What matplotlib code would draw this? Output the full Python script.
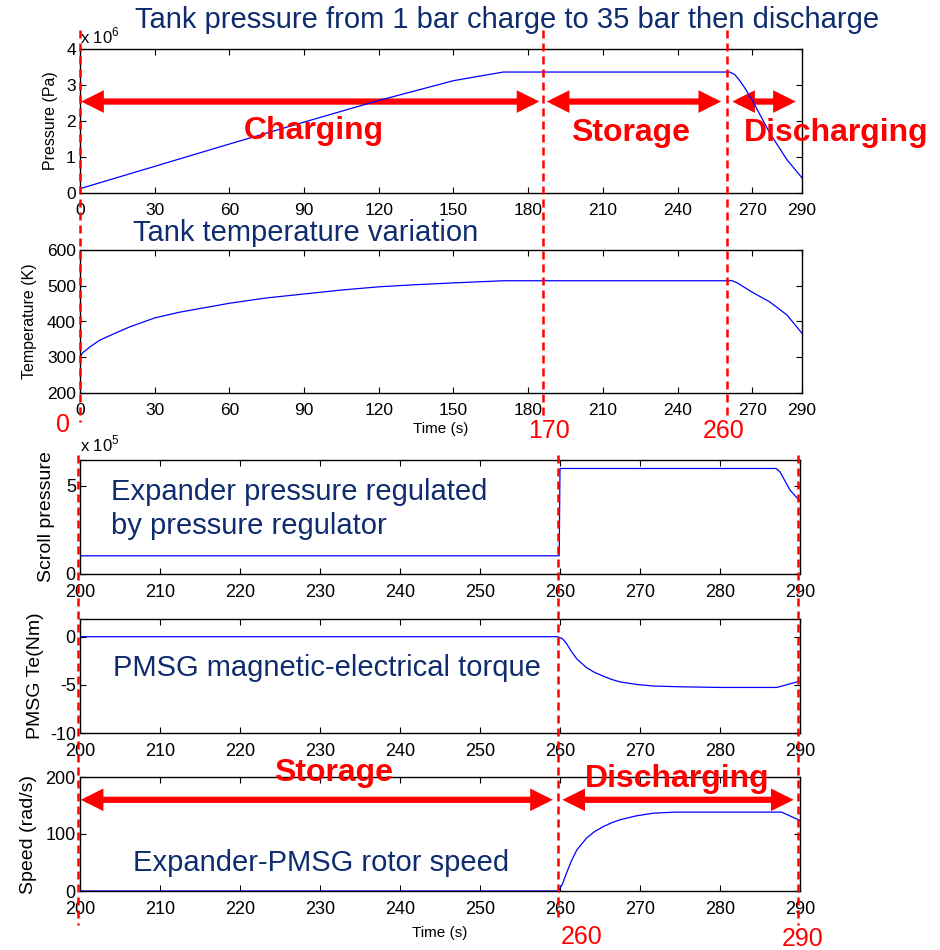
import matplotlib
matplotlib.use("Agg")
import matplotlib.pyplot as plt
from matplotlib.lines import Line2D
from matplotlib.patches import FancyArrowPatch
from matplotlib.transforms import blended_transform_factory

plt.rcParams['font.family'] = ['Liberation Sans', 'DejaVu Sans']
plt.rcParams['mathtext.fontset'] = 'custom'
plt.rcParams['mathtext.rm'] = 'Liberation Sans'
plt.rcParams['axes.unicode_minus'] = False

# --- datos ---
# presion del tanque (Pa)
t_tank_p = [0, 30, 60, 90, 120, 150, 170, 261, 263, 265, 267, 270, 277, 284, 290]
p_tank = [0.12e6, 0.74e6, 1.36e6, 1.97e6, 2.57e6, 3.12e6, 3.36e6, 3.36e6,
          3.29e6, 3.12e6, 2.92e6, 2.58e6, 1.67e6, 0.92e6, 0.42e6]

# temperatura del tanque (K)
t_tank_T = [0, 1, 4, 8, 15, 20, 30, 40, 60, 75, 90, 105, 120, 135, 150, 170,
            262, 264, 270, 277, 284, 290]
T_tank = [300, 312, 329, 348, 370, 385, 410, 426, 451, 466, 477, 488, 497, 503,
          508, 514, 514, 508, 482, 455, 418, 367]

# presion del expansor (Pa)
t_scroll = [200, 259.9, 260.0, 287.0, 287.5, 288.75, 290]
p_scroll = [1.03e5, 1.03e5, 5.97e5, 5.97e5, 5.78e5, 4.75e5, 4.12e5]

# par electromagnetico (Nm)
t_te = [200, 259.7, 260.3, 260.8, 261.4, 262.1, 263.3, 264.3, 265.4, 266.5, 267.5,
        269.6, 271.7, 275, 280, 287.1, 290]
te = [0, 0, -0.2, -0.69, -1.5, -2.3, -3.2, -3.7, -4.09, -4.45, -4.69, -4.96,
      -5.12, -5.2, -5.27, -5.27, -4.61]

# velocidad del rotor (rad/s)
t_speed = [200, 259.8, 260.3, 260.8, 261.4, 262.1, 263.3, 264.3, 265.4, 266.5,
           267.5, 269.6, 271.7, 274.4, 287.7, 290]
speed = [0, 0, 12, 31, 52, 72, 92.6, 104, 113, 120, 125, 132, 136.6, 138.4,
         138.4, 123.7]

# marcas de fase
top_marks = [0, 186, 260]
top_mark_labels = ['0', '170', '260']
bot_marks = [199.7, 259.7, 289.7]
bot_mark_labels = ['260', '290']

W, H = 940, 950
navy = '#0f2d6e'
red = '#ff0000'
blue = '#0000ff'


def box(left, top, right, bottom):
    return [left / W, 1 - bottom / H, (right - left) / W, (bottom - top) / H]


def fx(px):
    return px / W


def fy(py):
    return 1 - py / H


fig = plt.figure(figsize=(9.4, 9.5), dpi=100)

ax1 = fig.add_axes(box(80, 49, 802, 193))
ax2 = fig.add_axes(box(80, 250, 802, 393))
ax3 = fig.add_axes(box(80, 460, 800, 574))
ax4 = fig.add_axes(box(80, 619, 800, 733))
ax5 = fig.add_axes(box(80, 777, 800, 891))

ax1.plot(t_tank_p, p_tank, color=blue, lw=0.9)
ax2.plot(t_tank_T, T_tank, color=blue, lw=0.9)
ax3.plot(t_scroll, p_scroll, color=blue, lw=0.9)
ax4.plot(t_te, te, color=blue, lw=0.9)
ax5.plot(t_speed, speed, color=blue, lw=0.9)

for ax in (ax1, ax2):
    ax.set_xlim(0, 290)
    ax.set_xticks([0, 30, 60, 90, 120, 150, 180, 210, 240, 270, 290])
    ax.tick_params(axis='x', labelsize=12.5, pad=7)
    ax.tick_params(axis='y', labelsize=12.5, pad=3)
for ax in (ax3, ax4, ax5):
    ax.set_xlim(200, 290)
    ax.set_xticks(range(200, 291, 10))
    ax.tick_params(axis='x', labelsize=13, pad=7)
    ax.tick_params(axis='y', labelsize=13, pad=3)

for ax in (ax1, ax2, ax3, ax4, ax5):
    ax.tick_params(direction='in', top=True, right=True, length=4, width=0.8,
                   colors='black')
    for s in ax.spines.values():
        s.set_linewidth(1.0)

ax1.set_ylim(0, 4e6)
ax1.set_yticks([0, 1e6, 2e6, 3e6, 4e6])
ax1.set_yticklabels(['0', '1', '2', '3', '4'])
ax1.set_ylabel('Pressure (Pa)', fontsize=11.5, labelpad=6)
fig.text(fx(80), fy(36), r'x 10$^6$', fontsize=12, va='center', ha='left')

ax2.set_ylim(200, 600)
ax2.set_yticks([200, 300, 400, 500, 600])
ax2.set_ylabel('Temperature (K)', fontsize=11.5, labelpad=7)
ax2.set_xlabel('Time (s)', fontsize=11)
ax2.xaxis.set_label_coords(0.5, -0.2)

ax3.set_ylim(0, 6.45e5)
ax3.set_yticks([0, 5e5])
ax3.set_yticklabels(['0', '5'])
ax3.set_ylabel('Scroll pressure', fontsize=14, labelpad=8)
fig.text(fx(80), fy(444), r'x 10$^5$', fontsize=12, va='center', ha='left')

ax4.set_ylim(-10, 1.84)
ax4.set_yticks([-10, -5, 0])
ax4.set_ylabel('PMSG Te(Nm)', fontsize=14, labelpad=4)

ax5.set_ylim(0, 200)
ax5.set_yticks([0, 100, 200])
ax5.set_ylabel('Speed (rad/s)', fontsize=14, labelpad=6)
ax5.set_xlabel('Time (s)', fontsize=11)
ax5.xaxis.set_label_coords(0.5, -0.31)

# textos azules
fig.text(fx(507), fy(20), 'Tank pressure from 1 bar charge to 35 bar then discharge',
         color=navy, fontsize=21, ha='center', va='center')
fig.text(fx(133), fy(233), 'Tank temperature variation',
         color=navy, fontsize=21, ha='left', va='center')
fig.text(fx(111), fy(492), 'Expander pressure regulated',
         color=navy, fontsize=21, ha='left', va='center')
fig.text(fx(111), fy(526), 'by pressure regulator',
         color=navy, fontsize=21, ha='left', va='center')
fig.text(fx(113), fy(668), 'PMSG magnetic-electrical torque',
         color=navy, fontsize=21, ha='left', va='center')
fig.text(fx(133), fy(863), 'Expander-PMSG rotor speed',
         color=navy, fontsize=21, ha='left', va='center')

# lineas rojas discontinuas
dash = (0, (3.2, 2))
tr_top = blended_transform_factory(ax1.transData, fig.transFigure)
tr_bot = blended_transform_factory(ax5.transData, fig.transFigure)
for x, y_end in zip(top_marks, [422, 415, 417]):
    fig.add_artist(Line2D([x, x], [fy(30), fy(y_end)], transform=tr_top,
                          color=red, lw=1.8, linestyle=dash))
for x, y_end in zip(bot_marks, [925, 917, 925]):
    fig.add_artist(Line2D([x, x], [fy(455), fy(y_end)], transform=tr_bot,
                          color=red, lw=1.8, linestyle=dash))

fig.text(fx(63), fy(425), top_mark_labels[0], color=red, fontsize=18, ha='center', va='center')
fig.text(fx(549), fy(431), top_mark_labels[1], color=red, fontsize=18, ha='center', va='center')
fig.text(fx(724), fy(431), top_mark_labels[2], color=red, fontsize=18, ha='center', va='center')
fig.text(fx(582), fy(937), bot_mark_labels[0], color=red, fontsize=18, ha='center', va='center')
fig.text(fx(803), fy(939), bot_mark_labels[1], color=red, fontsize=18, ha='center', va='center')


# flechas rojas de fase
def fase(ax, x0, x1, y):
    a = FancyArrowPatch((x0, y), (x1, y), arrowstyle='<|-|>,head_length=9,head_width=4.5',
                        mutation_scale=1, color=red, lw=4.5, shrinkA=0, shrinkB=0,
                        clip_on=False, joinstyle='miter')
    ax.add_patch(a)


fase(ax1, 0.5, 184.5, 2.54e6)
fase(ax1, 187.5, 257.5, 2.54e6)
fase(ax1, 262, 287.5, 2.54e6)
fase(ax5, 200.1, 259.1, 160)
fase(ax5, 260.3, 289.2, 160)

fig.text(fx(314), fy(131), 'Charging', color=red, fontsize=23, fontweight='bold',
         ha='center', va='center')
fig.text(fx(631), fy(133), 'Storage', color=red, fontsize=23, fontweight='bold',
         ha='center', va='center')
fig.text(fx(836), fy(133), 'Discharging', color=red, fontsize=23, fontweight='bold',
         ha='center', va='center')
fig.text(fx(334), fy(773), 'Storage', color=red, fontsize=23, fontweight='bold',
         ha='center', va='center')
fig.text(fx(677), fy(779), 'Discharging', color=red, fontsize=23, fontweight='bold',
         ha='center', va='center')

fig.savefig('out.png', dpi=100)
